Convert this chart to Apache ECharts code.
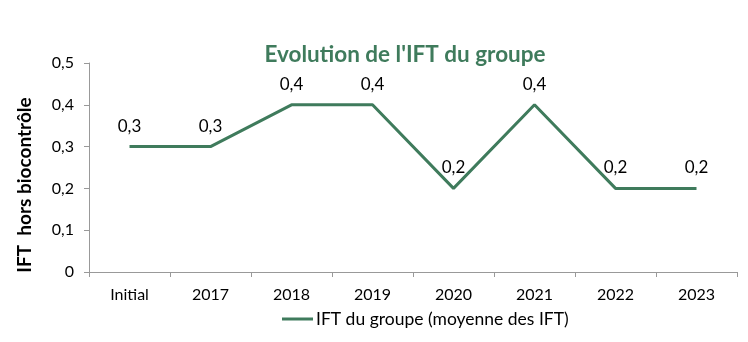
<!DOCTYPE html>
<html>
<head>
<meta charset="utf-8">
<script src="https://cdn.jsdelivr.net/npm/echarts@6/dist/echarts.min.js"></script>
<style>
  html, body { margin: 0; padding: 0; background: #fff; }
  #chart { width: 748px; height: 342px; }
</style>
</head>
<body>
<div id="chart"></div>
<script>
// Evolution de l'IFT du groupe
const categories = ['Initial', '2017', '2018', '2019', '2020', '2021', '2022', '2023'];
const iftGroupe = [0.3, 0.3, 0.4, 0.4, 0.2, 0.4, 0.2, 0.2];
const yTicks = [0, 0.1, 0.2, 0.3, 0.4, 0.5];
const yAxisTitle = 'IFT  hors biocontrôle';

const green = '#3f7b5c';
const font = 'Lato, "Open Sans", sans-serif';
const fmt = v => (v === 0 ? '0' : v.toFixed(1).replace('.', ','));

const chart = echarts.init(document.getElementById('chart'));
chart.setOption({
  animation: false,
  textStyle: { fontFamily: font },
  title: {
    text: "Evolution de l'IFT du groupe",
    left: 400, top: 38, textAlign: 'center',
    textStyle: { color: green, fontSize: 22.5, fontWeight: 'bold', fontFamily: font }
  },
  graphic: [{
    type: 'text',
    x: 25, y: 185, rotation: Math.PI / 2,
    style: {
      text: yAxisTitle, fill: '#000',
      font: 'bold 19px ' + font,
      align: 'center', verticalAlign: 'middle'
    }
  }],
  grid: { left: 89, right: 11, top: 63, bottom: 70 },
  legend: {
    bottom: 9, left: 277,
    icon: 'rect', itemWidth: 31, itemHeight: 3, itemGap: 4,
    textStyle: { fontSize: 17.5, color: '#000', fontFamily: font, padding: [0, 0, 0, -2] },
    data: ['IFT du groupe (moyenne des IFT)']
  },
  xAxis: {
    type: 'category',
    data: categories,
    boundaryGap: true,
    axisLine: { lineStyle: { color: '#999' } },
    axisTick: { show: true, length: 5, lineStyle: { color: '#999' } },
    axisLabel: { color: '#000', fontSize: 16, margin: 15, fontFamily: font }
  },
  yAxis: {
    type: 'value',
    min: yTicks[0], max: yTicks[yTicks.length - 1], interval: 0.1,
    axisLine: { show: true, lineStyle: { color: '#999' } },
    axisTick: { show: true, length: 5, lineStyle: { color: '#999' } },
    splitLine: { show: false },
    axisLabel: { color: '#000', fontSize: 16, margin: 15, formatter: fmt, fontFamily: font }
  },
  series: [{
    name: 'IFT du groupe (moyenne des IFT)',
    type: 'line',
    data: iftGroupe,
    symbol: 'circle',
    symbolSize: 0,
    showSymbol: true,
    lineStyle: { color: green, width: 3 },
    itemStyle: { color: green },
    label: {
      show: true, position: 'top', distance: 12,
      fontSize: 17, color: '#000', fontFamily: font,
      formatter: p => fmt(p.value)
    }
  }]
});
</script>
</body>
</html>
